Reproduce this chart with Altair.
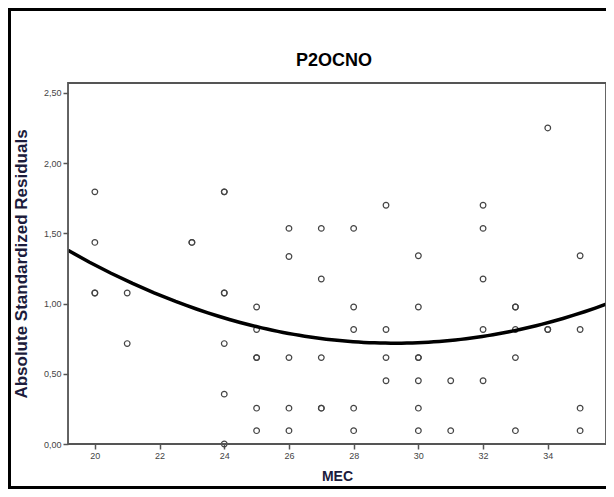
import altair as alt
import pandas as pd

# MEC value of each case and its absolute standardized residual
mec = [20, 20, 20, 20,
       21, 21,
       23, 23,
       24, 24, 24, 24, 24, 24, 24,
       25, 25, 25, 25, 25, 25,
       26, 26, 26, 26, 26,
       27, 27, 27, 27, 27,
       28, 28, 28, 28, 28,
       29, 29, 29, 29,
       30, 30, 30, 30, 30, 30, 30,
       31, 31,
       32, 32, 32, 32, 32,
       33, 33, 33, 33, 33,
       34, 34, 34,
       35, 35, 35, 35]
residual = [1.795, 1.435, 1.075, 1.075,
            1.075, 0.715,
            1.435, 1.435,
            1.795, 1.795, 1.075, 1.075, 0.715, 0.355, 0.0,
            0.975, 0.815, 0.615, 0.615, 0.255, 0.095,
            1.535, 1.335, 0.615, 0.255, 0.095,
            1.535, 1.175, 0.615, 0.255, 0.255,
            1.535, 0.975, 0.815, 0.255, 0.095,
            1.700, 0.815, 0.615, 0.450,
            1.340, 0.975, 0.615, 0.615, 0.450, 0.255, 0.095,
            0.450, 0.095,
            1.700, 1.535, 1.175, 0.815, 0.450,
            0.975, 0.975, 0.815, 0.615, 0.095,
            2.250, 0.815, 0.815,
            1.340, 0.815, 0.255, 0.095]

chart_title = "P2OCNO"
x_domain = [19.17, 35.8]
y_domain = [0, 2.57]
x_ticks = [20, 22, 24, 26, 28, 30, 32, 34]
y_ticks = [0, 0.5, 1.0, 1.5, 2.0, 2.5]

df = pd.DataFrame({"MEC": mec, "res": residual})

W, H = 538, 361
PL, PT, PR, PB = 60, 75, 0, 45

label_expr = "replace(format(datum.value, '.2f'), '.', ',')"

xenc = alt.X("MEC:Q", scale=alt.Scale(domain=x_domain, nice=False, zero=False),
             axis=alt.Axis(values=x_ticks, title="MEC", grid=False, domain=False,
                           tickSize=5, tickColor="#555", tickWidth=1.5,
                           labelFontSize=9, labelColor="#444", labelPadding=2,
                           labelFont="Liberation Sans",
                           titleFont="Liberation Sans", titleFontSize=14,
                           titleFontWeight="bold", titleColor="#1c1c3c",
                           titlePadding=9))
yenc = alt.Y("res:Q", scale=alt.Scale(domain=y_domain, nice=False),
             axis=alt.Axis(values=y_ticks, title="Absolute Standardized Residuals",
                           grid=False, domain=False, labelExpr=label_expr,
                           tickSize=5, tickColor="#555", tickWidth=1.5,
                           labelFontSize=9, labelColor="#444", labelPadding=2,
                           labelFont="Liberation Sans",
                           titleFont="Liberation Sans", titleFontSize=17,
                           titleFontWeight="bold", titleColor="#1c1c3c",
                           titlePadding=13))

points = alt.Chart(df).mark_point(shape="circle", filled=False, size=32,
                                  color="#444", strokeWidth=1.2, opacity=1).encode(x=xenc, y=yenc)

fit = alt.Chart(df).transform_regression(
    "MEC", "res", method="poly", order=2, extent=x_domain
).mark_line(color="black", strokeWidth=3.5, clip=True).encode(x="MEC:Q", y="res:Q")

title_df = pd.DataFrame({"t": [chart_title]})
title_mark = alt.Chart(title_df).mark_text(
    font="Liberation Sans", fontSize=18, fontWeight="bold", color="black",
    align="center", baseline="middle"
).encode(text="t:N", x=alt.value(W / 2 - 3), y=alt.value(-22))

plot_frame = alt.Chart(pd.DataFrame({"k": [0]})).mark_rect(
    fillOpacity=0, stroke="#555", strokeWidth=1.8, clip=False
).encode(x=alt.value(0), x2=alt.value(W), y=alt.value(0), y2=alt.value(H))

frame = alt.Chart(pd.DataFrame({"k": [0]})).mark_rect(
    fillOpacity=0, stroke="black", strokeWidth=3, clip=False
).encode(x=alt.value(-PL + 1.5), x2=alt.value(W + PR + 10),
         y=alt.value(-PT + 1.5), y2=alt.value(H + PB - 1.5))

chart = alt.layer(points, fit, title_mark, plot_frame, frame).properties(
    width=W, height=H,
    padding={"left": PL, "top": PT, "right": PR, "bottom": PB},
    autosize=alt.AutoSizeParams(type="none"),
).configure_view(stroke=None).configure(background="white")

chart.save("out.html", embed_options={"renderer": "svg", "actions": False})
